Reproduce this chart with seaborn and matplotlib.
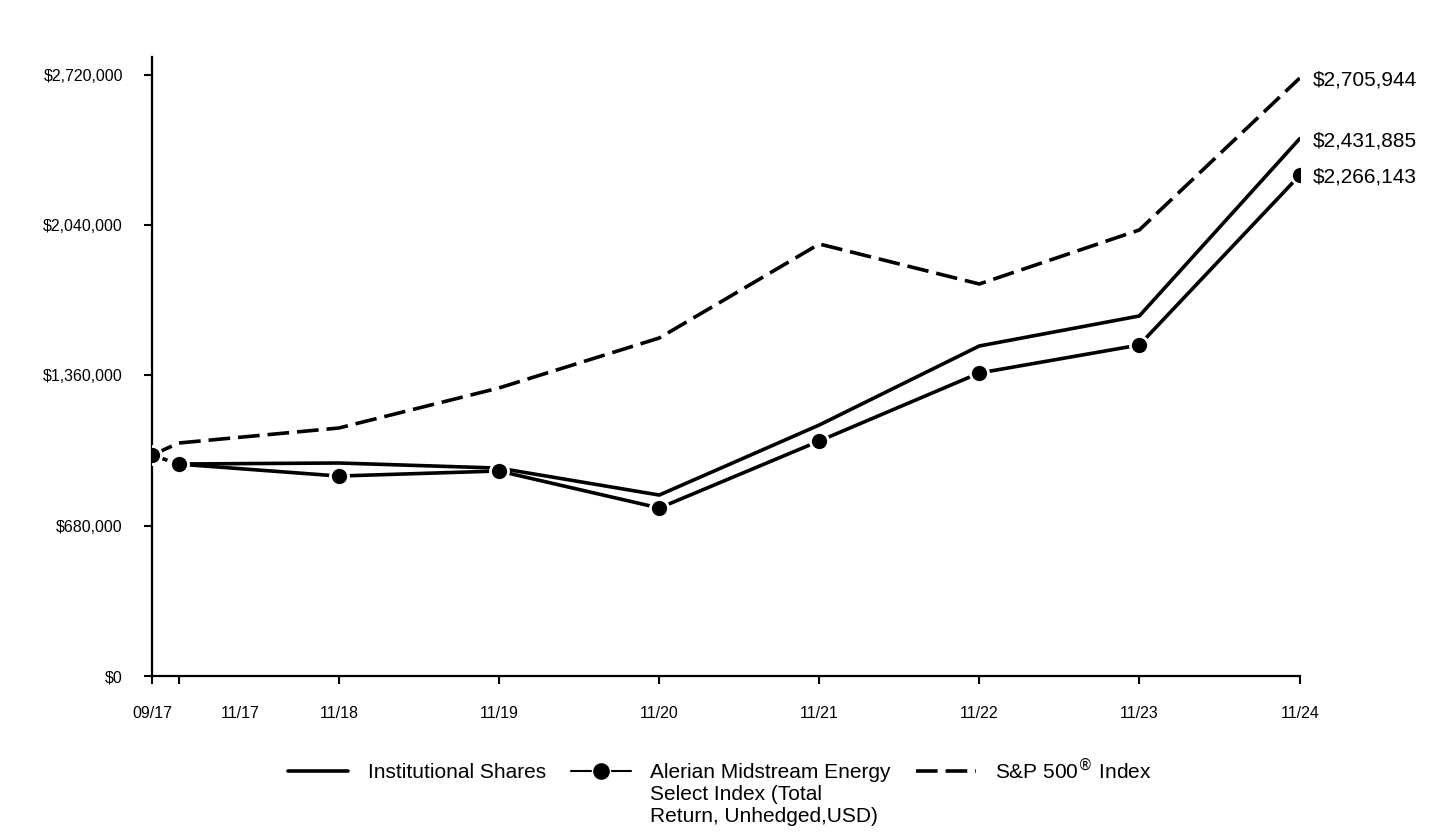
import matplotlib
matplotlib.use('Agg')
import matplotlib.pyplot as plt
import matplotlib.transforms as mtransforms
from matplotlib.lines import Line2D
import seaborn as sns
import pandas as pd
import numpy as np

# data
dates = pd.to_datetime(['2017-09-30', '2017-11-30', '2018-11-30', '2019-11-30', '2020-11-30',
                        '2021-11-30', '2022-11-30', '2023-11-30', '2024-11-30'])
date_labels = ['09/17', '11/17', '11/18', '11/19', '11/20', '11/21', '11/22', '11/23', '11/24']
institutional = [np.nan, 959500, 964000, 941000, 819000, 1136000, 1493500, 1629300, 2431885]
alerian = [1000000, 959000, 905000, 927800, 760300, 1063600, 1371300, 1498000, 2266143]
sp500 = [1000000, 1054500, 1122400, 1303400, 1529700, 1955100, 1774100, 2018500, 2705944]
y_ticks = [0, 680000, 1360000, 2040000, 2720000]

sns.set_theme(style='white', rc={'text.color': 'black', 'axes.labelcolor': 'black',
                                 'xtick.color': 'black', 'ytick.color': 'black'})
plt.rcParams['font.family'] = ['Liberation Sans', 'DejaVu Sans']

fig = plt.figure(figsize=(14.4, 8.4), dpi=100)
ax = fig.add_axes([0.1056, 0.1952, 0.797, 0.737])

df = pd.DataFrame({'date': dates, 'inst': institutional, 'alerian': alerian, 'sp': sp500})

lw = 2.6
sns.lineplot(data=df, x='date', y='sp', ax=ax, color='black', linewidth=lw, legend=False)
ax.lines[-1].set_dashes((6, 2.2))
sns.lineplot(data=df.dropna(), x='date', y='inst', ax=ax, color='black', linewidth=lw,
             legend=False)
# first alerian segment drawn dotted, as in the reference
sns.lineplot(data=df.iloc[:2], x='date', y='alerian', ax=ax, color='black', linewidth=lw,
             legend=False)
ax.lines[-1].set_dashes((1.5, 1.5))
sns.lineplot(data=df.iloc[1:], x='date', y='alerian', ax=ax, color='black', linewidth=lw,
             legend=False)
ax.plot(df['date'], df['alerian'], linestyle='none', marker='o', markersize=13,
        markerfacecolor='black', markeredgecolor='white', markeredgewidth=2, zorder=5)

# end labels
for vals in [sp500, institutional, alerian]:
    ax.annotate(f'${vals[-1]:,.0f}', xy=(dates[-1], vals[-1]), xytext=(9.5, -1.5),
                textcoords='offset points', va='center', ha='left', fontsize=15,
                color='black', annotation_clip=False)

ax.set_xlim(dates[0], dates[-1])
ax.set_ylim(0, 2801500)
ax.set_yticks(y_ticks)
ax.set_yticklabels([f'${v:,.0f}' for v in y_ticks])
ax.set_xticks(dates)
ax.set_xticklabels(date_labels)
ax.set_xlabel('')
ax.set_ylabel('')

for s in ['top', 'right']:
    ax.spines[s].set_visible(False)
for s in ['left', 'bottom']:
    ax.spines[s].set_color('black')
    ax.spines[s].set_linewidth(1.6)
ax.tick_params(axis='both', which='major', length=6, width=1.5, color='black',
               labelsize=11.5, labelcolor='black', bottom=True, left=True)
ax.tick_params(axis='x', pad=15.5)
ax.tick_params(axis='y', pad=15)

# shift the 11/17 label right so it doesn't collide with 09/17
lab = ax.get_xticklabels()[1]
lab.set_transform(lab.get_transform() + mtransforms.ScaledTranslation(0.61, 0, fig.dpi_scale_trans))

# legend (Alerian label continues below its first line, top-aligned like the reference)
handles = [
    Line2D([], [], color='black', linewidth=lw),
    Line2D([], [], color='black', linewidth=1.5, marker='o', markersize=13,
           markerfacecolor='black', markeredgecolor='white', markeredgewidth=1),
    Line2D([], [], color='black', linewidth=lw, dashes=(6, 2.2)),
]
labels = ['Institutional Shares', 'Alerian Midstream Energy', 'S&P 500$^{®}$ Index']
leg = fig.legend(handles, labels, loc='upper left', bbox_to_anchor=(0.2, 0.0994),
                 bbox_transform=fig.transFigure, ncol=3, frameon=False, fontsize=15,
                 handlelength=2.9, columnspacing=1.2, handletextpad=0.92,
                 borderpad=0, borderaxespad=0)
fig.canvas.draw()
bb = leg.get_texts()[1].get_window_extent()
yc = (bb.y0 + bb.y1) / 2
for k, line in enumerate(['Select Index (Total', 'Return, Unhedged,USD)']):
    fig.text(bb.x0 / fig.bbox.width, (yc - 22 * (k + 1)) / fig.bbox.height, line,
             fontsize=15, color='black', ha='left', va='center')

fig.savefig('out.png', dpi=100)
